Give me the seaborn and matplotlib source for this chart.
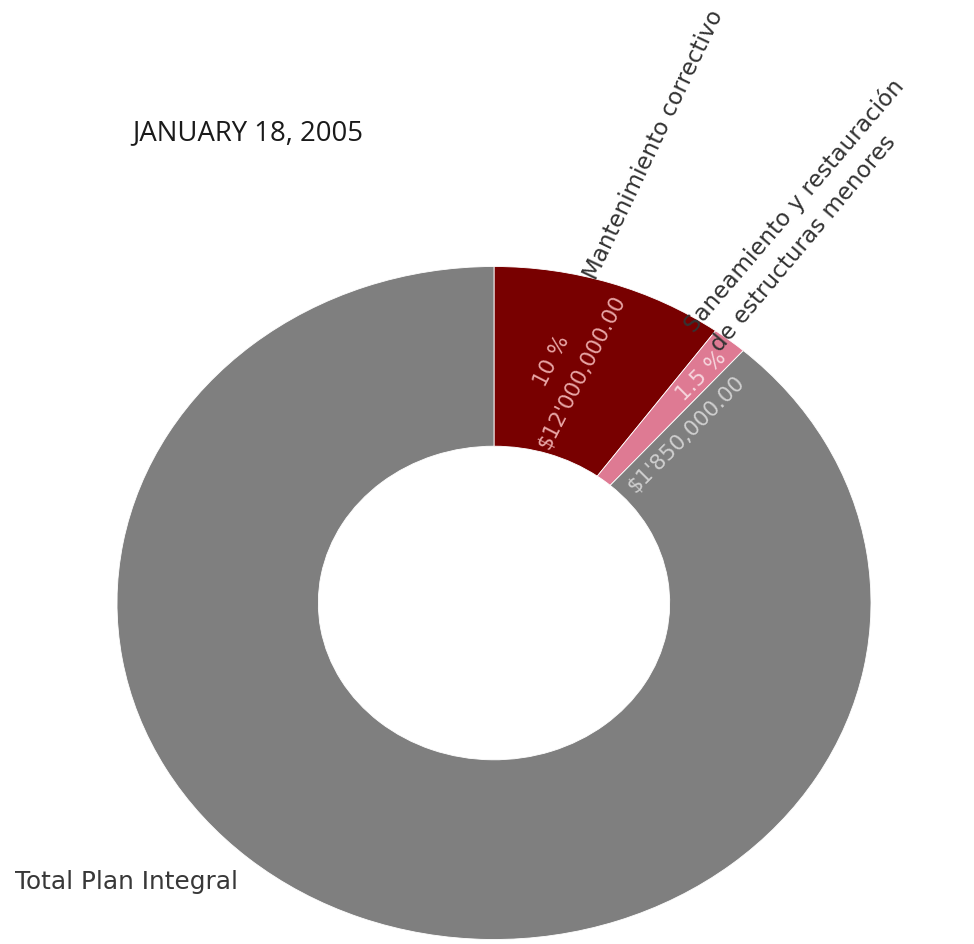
"""
Donut del plan integral (enero 2005)
"""

import matplotlib
matplotlib.use("Agg")
import matplotlib.pyplot as plt
import seaborn as sns

# Datos
categorias = ["Mantenimiento correctivo",
              "Saneamiento y restauración de estructuras menores",
              "Total Plan Integral"]
porcentajes = [10.0, 1.5, 88.5]
montos = ["$12'000,000.00", "$1'850,000.00", ""]
colores = ["#780000", "#DE7A93", "#7F7F7F"]

# Estilo
sns.set_theme(style="white")
plt.rcParams['font.family'] = ['DejaVu Sans']

W, H = 974, 944
cx, cy = 494, 603      # centro del donut (px)
rx, ry = 377, 336.5    # radios del óvalo (px)


def px(x, y):
    """Convierte pixeles de la imagen a fracción de figura"""
    return x / W, 1 - y / H


fig = plt.figure(figsize=(W / 100, H / 100), dpi=100)
ax = fig.add_axes([0, 0, 1, 1])

ax.pie(porcentajes, colors=colores, startangle=90, counterclock=False,
       radius=1, wedgeprops=dict(width=0.534, edgecolor='white', linewidth=0.6))
ax.set_aspect('auto')
ax.set_xlim(-cx / rx, (W - cx) / rx)
ax.set_ylim(-(H - cy) / ry, cy / ry)
ax.axis('off')

# Título / fecha
fig.text(*px(132, 140), "JANUARY 18, 2005", family=['Open Sans', 'DejaVu Sans'],
         fontsize=19.8, color='#1a1a1a', ha='left', va='baseline')

# Etiquetas exteriores
lab_kw = dict(fontsize=16.6, color='#333333', ha='left', va='baseline',
              rotation_mode='anchor')
fig.text(*px(596, 281), categorias[0], rotation=64.5, **lab_kw)
fig.text(*px(694, 334), "Saneamiento y restauración", rotation=49.5, **lab_kw)
fig.text(*px(720, 353), "de estructuras menores", rotation=50, **lab_kw)
fig.text(*px(15, 889), categorias[2], fontsize=17.8, color='#383838',
         ha='left', va='baseline')

# Etiquetas dentro de las porciones
in_kw = dict(fontsize=15.5, ha='center', va='center', rotation_mode='anchor')
fig.text(*px(552, 361), f"{porcentajes[0]:.0f} %", rotation=63,
         color='#E8A6A6', **in_kw)
fig.text(*px(582, 372), montos[0], rotation=63, color='#E8A6A6', **in_kw)
fig.text(*px(702, 376), f"{porcentajes[1]:.1f} %", rotation=45,
         color='#F6D6DE', **in_kw)
fig.text(*px(686, 434), montos[1], rotation=45, color='#CFCFCF', **in_kw)

fig.savefig("out.png", dpi=100)
plt.close(fig)
